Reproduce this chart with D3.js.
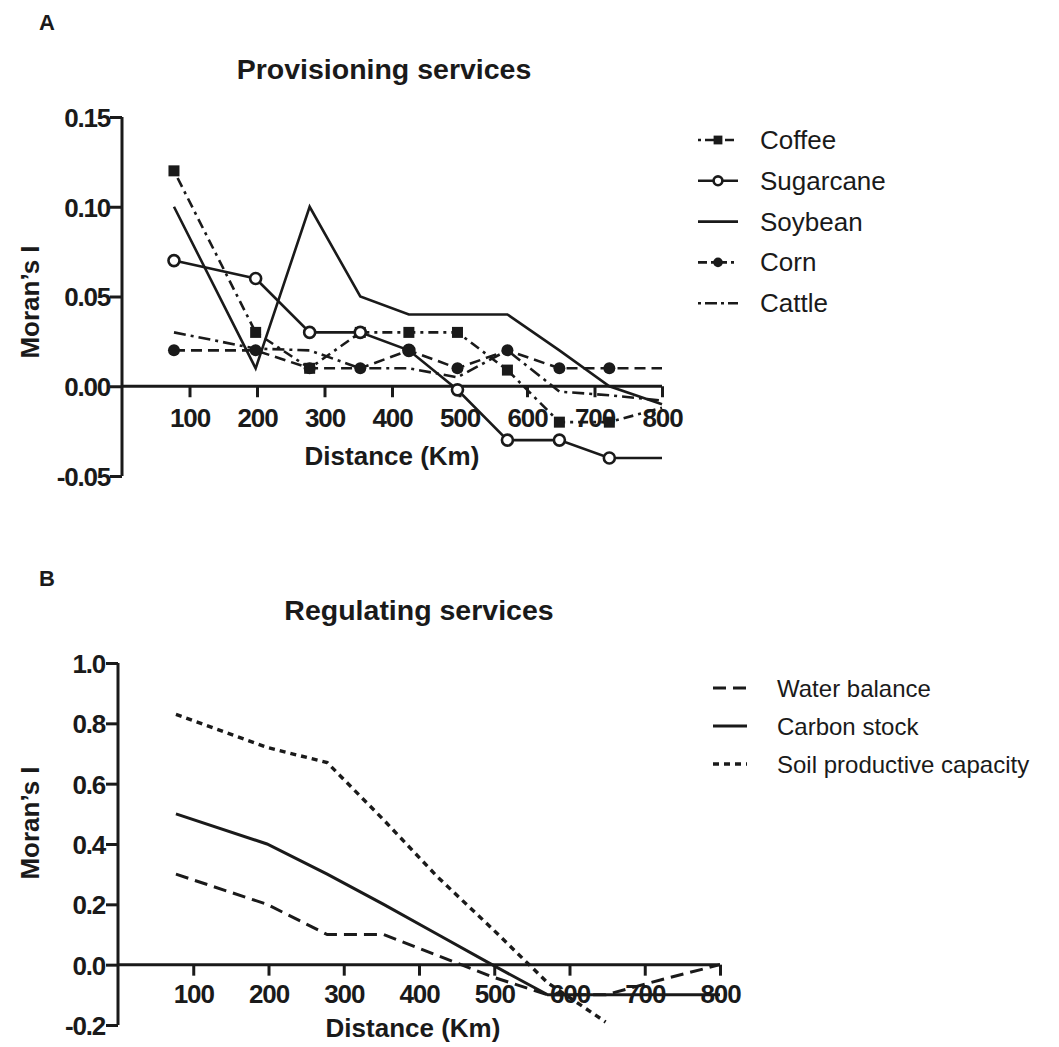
<!DOCTYPE html>
<html>
<head>
<meta charset="utf-8">
<script src="https://cdn.jsdelivr.net/npm/d3@7"></script>
<style>
  html, body { margin: 0; padding: 0; background: #fff; }
  svg { display: block; }
  text { font-family: "Liberation Sans", Arial, sans-serif; fill: #1a1a1a; }
</style>
</head>
<body>
<script>
// Distance classes (km) shared by every series
const distances = [77, 198, 278, 353, 425, 497, 571, 648, 722, 800];

// Panel A: provisioning services (Moran's I)
const coffee    = [0.12, 0.03, 0.01, 0.03, 0.03, 0.03, 0.009, -0.02, -0.02, -0.012];
const sugarcane = [0.07, 0.06, 0.03, 0.03, 0.02, -0.002, -0.03, -0.03, -0.04, -0.04];
const soybean   = [0.10, 0.01, 0.10, 0.05, 0.04, 0.04, 0.04, 0.02, 0.0, -0.01];
const corn      = [0.02, 0.02, 0.01, 0.01, 0.02, 0.01, 0.02, 0.01, 0.01, 0.01];
const cattle    = [0.03, 0.021, 0.02, 0.01, 0.01, 0.005, 0.02, -0.003, -0.005, -0.008];

// Panel B: regulating services (Moran's I)
const waterBalance = [0.30, 0.20, 0.10, 0.10, 0.03, -0.04, -0.10, -0.10, -0.05, 0.0];
const carbonStock  = [0.50, 0.40, 0.30, 0.20, 0.10, 0.0, -0.10, -0.10, -0.10, -0.10];
const soilCapacity = [0.83, 0.72, 0.67, 0.48, 0.29, 0.12, -0.06, -0.19];

// Axis ticks
const xTicks  = [100, 200, 300, 400, 500, 600, 700, 800];
const yTicksA = [-0.05, 0.00, 0.05, 0.10, 0.15];
const yTicksB = [-0.2, 0.0, 0.2, 0.4, 0.6, 0.8, 1.0];

const W = 1059, H = 1047;
const svg = d3.select("body").append("svg").attr("width", W).attr("height", H);

const INK = "#1a1a1a";

// plain hyphen for negative tick labels
const hyphenFormat = spec => v => d3.format(spec)(v).replace("\u2212", "-");

function series(name, values, style) {
  return Object.assign({ name, points: values.map((v, i) => ({ x: distances[i], y: v })) }, style);
}

function drawPanel(cfg) {
  const g = svg.append("g");
  const x = d3.scaleLinear().domain([0, 800]).range(cfg.xRange);
  const y = d3.scaleLinear().domain(cfg.yDomain).range(cfg.yRange);
  const x0 = cfg.xRange[0];
  const yZero = y(0);

  // panel letter and title
  g.append("text").attr("x", cfg.letterPos[0]).attr("y", cfg.letterPos[1])
    .attr("font-size", 22).attr("font-weight", "bold").text(cfg.letter);
  g.append("text").attr("x", cfg.titlePos[0]).attr("y", cfg.titlePos[1])
    .attr("text-anchor", "middle").attr("font-size", 28.5).attr("font-weight", "bold")
    .text(cfg.title);

  // y axis
  const yAxis = g.append("g").attr("transform", `translate(${x0},0)`)
    .call(d3.axisLeft(y).tickValues(cfg.yTicks).tickSize(12).tickSizeOuter(0).tickFormat(cfg.yFormat));
  yAxis.select(".domain").attr("stroke", INK).attr("stroke-width", 3)
    .attr("d", `M0,${y(cfg.yDomain[1])}V${y(cfg.yDomain[0])}`);
  yAxis.selectAll(".tick line").attr("stroke", INK).attr("stroke-width", 3);
  yAxis.selectAll(".tick text").attr("x", cfg.yLabelX).attr("dy", "0.36em")
    .attr("font-size", 26).attr("font-weight", "bold").attr("letter-spacing", "-1.2px")
    .attr("font-family", "Liberation Sans, Arial, sans-serif").attr("fill", INK);

  // x axis along zero line
  const xAxis = g.append("g").attr("transform", `translate(0,${yZero})`)
    .call(d3.axisBottom(x).tickValues(xTicks).tickSize(11).tickSizeOuter(0));
  xAxis.select(".domain").attr("stroke", INK).attr("stroke-width", 3)
    .attr("d", `M${x0},0H${x(800)}`);
  xAxis.selectAll(".tick line").attr("stroke", INK).attr("stroke-width", 3);
  xAxis.selectAll(".tick text").attr("y", cfg.xLabelOffset).attr("dy", 0)
    .attr("font-size", 26).attr("font-weight", "bold").attr("letter-spacing", "-1.2px")
    .attr("font-family", "Liberation Sans, Arial, sans-serif").attr("fill", INK);

  // axis titles
  g.append("text").attr("x", cfg.xTitlePos[0]).attr("y", cfg.xTitlePos[1])
    .attr("text-anchor", "middle").attr("font-size", 26).attr("font-weight", "bold")
    .text("Distance (Km)");
  g.append("text").attr("transform", `translate(${cfg.yTitlePos[0]},${cfg.yTitlePos[1]}) rotate(-90)`)
    .attr("text-anchor", "middle").attr("font-size", 26).attr("font-weight", "bold")
    .text("Moran\u2019s I");

  // series lines
  const line = d3.line().x(d => x(d.x)).y(d => y(d.y));
  const plot = g.append("g");
  cfg.series.forEach(s => {
    plot.append("path").datum(s.points)
      .attr("fill", "none").attr("stroke", INK).attr("stroke-width", s.width || 2.6)
      .attr("stroke-dasharray", s.dash || null)
      .attr("stroke-linejoin", "miter").attr("d", line);
  });
  // markers drawn on top
  cfg.series.forEach(s => {
    if (!s.marker) return;
    const pts = s.points.slice(0, s.markerCount || s.points.length);
    drawMarkers(plot, pts.map(p => [x(p.x), y(p.y)]), s.marker);
  });

  // legend
  const lg = g.append("g");
  cfg.series.forEach((s, i) => {
    const cy = cfg.legend.y0 + i * cfg.legend.step;
    const [lx1, lx2] = cfg.legend.sample;
    lg.append("line").attr("x1", lx1).attr("x2", lx2).attr("y1", cy).attr("y2", cy)
      .attr("stroke", INK).attr("stroke-width", s.width || 2.6)
      .attr("stroke-dasharray", s.legendDash || s.dash || null);
    if (s.marker) drawMarkers(lg, [[(lx1 + lx2) / 2, cy]], s.marker, 0.8);
    lg.append("text").attr("x", cfg.legend.textX).attr("y", cy + 9)
      .attr("font-size", cfg.legend.fontSize).text(s.name);
  });
}

function drawMarkers(sel, pts, kind, k = 1) {
  pts.forEach(([px, py]) => {
    if (kind === "square") {
      const s = 11 * k;
      sel.append("rect").attr("x", px - s / 2).attr("y", py - s / 2)
        .attr("width", s).attr("height", s).attr("fill", INK);
    } else if (kind === "open") {
      sel.append("circle").attr("cx", px).attr("cy", py).attr("r", 5.5 * k)
        .attr("fill", "#fff").attr("stroke", INK).attr("stroke-width", 2.6);
    } else if (kind === "filled") {
      sel.append("circle").attr("cx", px).attr("cy", py).attr("r", 6 * k).attr("fill", INK);
    }
  });
}

drawPanel({
  letter: "A", letterPos: [39, 30],
  title: "Provisioning services", titlePos: [384, 79],
  xRange: [122, 662], yDomain: [-0.05, 0.15], yRange: [476, 117],
  yTicks: yTicksA, yFormat: hyphenFormat(".2f"), yLabelX: -12,
  xLabelOffset: 41, xTitlePos: [392, 465], yTitlePos: [39, 302],
  series: [
    series("Coffee", coffee, { dash: "3,5,10,5", legendDash: "3,4,9,4", marker: "square", markerCount: 9 }),
    series("Sugarcane", sugarcane, { marker: "open", markerCount: 9 }),
    series("Soybean", soybean, {}),
    series("Corn", corn, { dash: "11,6", legendDash: "9,4,3,4", marker: "filled", markerCount: 9 }),
    series("Cattle", cattle, { dash: "12,5,3,5", legendDash: "3,4,12,4" })
  ],
  legend: { y0: 140, step: 40.8, sample: [698, 738], textX: 760, fontSize: 26 }
});

drawPanel({
  letter: "B", letterPos: [39, 586],
  title: "Regulating services", titlePos: [419, 620],
  xRange: [118, 720], yDomain: [-0.2, 1.0], yRange: [1025, 663],
  yTicks: yTicksB, yFormat: hyphenFormat(".1f"), yLabelX: -13,
  xLabelOffset: 38, xTitlePos: [413, 1037], yTitlePos: [39, 823],
  series: [
    series("Water balance", waterBalance, { dash: "13,7", width: 3 }),
    series("Carbon stock", carbonStock, { width: 3 }),
    series("Soil productive capacity", soilCapacity, { dash: "6,5", width: 3.4 })
  ],
  legend: { y0: 688, step: 38, sample: [713, 747], textX: 777, fontSize: 24 }
});
</script>
</body>
</html>
